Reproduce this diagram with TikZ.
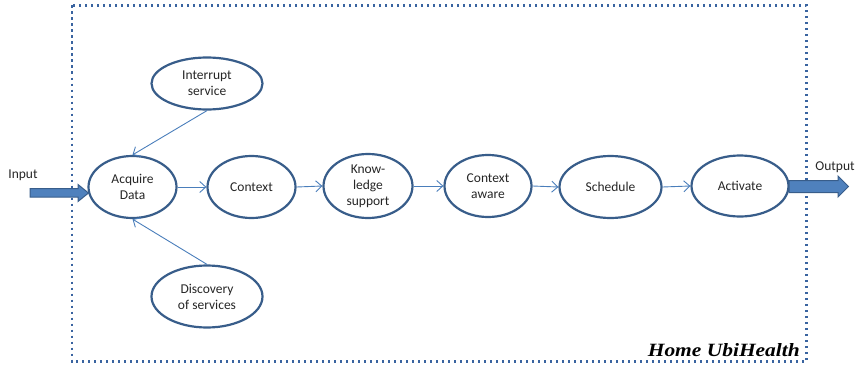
\documentclass[tikz,border=0pt]{standalone}
\usepackage{fontspec}
\usepackage{graphicx}
\setmainfont{Carlito}
\newfontfamily\sigfont{Liberation Serif}[UprightFont=*, BoldItalicFont=* Bold Italic]
\usetikzlibrary{shapes.geometric,arrows.meta}
\definecolor{ebord}{HTML}{385D8A}
\definecolor{conn}{HTML}{4A7EBB}
\definecolor{fatfill}{HTML}{4F81BD}
\definecolor{dotc}{HTML}{3A64A0}
\tikzset{
  proc/.style={ellipse, draw=ebord, line width=2.2pt, fill=white, inner sep=0pt,
    align=center, font=\fontsize{13.5}{16}\selectfont, text=black!85},
  conarrow/.style={draw=conn, line width=0.9pt, -{Straight Barb[length=6pt,width=11pt,line width=0.9pt]}},
  fat/.style={fill=fatfill, draw=ebord, line width=1pt},
  lab/.style={font=\fontsize{13.5}{16}\selectfont, text=black!85}
}
\begin{document}
\begin{tikzpicture}[x=1pt,y=-1pt]
\useasboundingbox (0,0) rectangle (856,369);
% dotted frame
\draw[dotc, line width=2.4pt, dash pattern=on 2.4pt off 3.6pt] (72,5.5) rectangle (806.5,361.5);
% process nodes
\node[proc, minimum width=88pt, minimum height=62pt] (acq) at (132.5,187) {Acquire\\Data};
\node[proc, minimum width=88pt, minimum height=62pt] (ctx) at (251.5,187) {Context};
\node[proc, minimum width=89pt, minimum height=64pt] (know) at (368,186) {Know-\\ledge\\support};
\node[proc, minimum width=87pt, minimum height=62pt] (caw) at (488,186) {Context\\aware};
\node[proc, minimum width=102pt, minimum height=62pt] (sch) at (610.5,187) {Schedule};
\node[proc, minimum width=97pt, minimum height=61pt] (act) at (740,186) {Activate};
\node[proc, minimum width=111pt, minimum height=52pt] (intr) at (207,83.5) {Interrupt\\service};
\node[proc, minimum width=111pt, minimum height=62pt] (disc) at (207,296.5) {Discovery\\of services};
% connectors
\draw[conarrow] (acq.east) -- (ctx.west);
\draw[conarrow] (ctx.east) -- (know.west);
\draw[conarrow] (know.east) -- (caw.west);
\draw[conarrow] (caw.east) -- (sch.west);
\draw[conarrow] (sch.east) -- (act.west);
\draw[conarrow] (intr.south) -- (acq.north);
\draw[conarrow] (disc.north) -- (acq.south);
% input / output block arrows
\draw[fat] (30,188.5) -- (78,188.5) -- (78,184.5) -- (88.5,193) -- (78,201.5) -- (78,197) -- (30,197) -- cycle;
\draw[fat] (789,180.5) -- (838,180.5) -- (838,176) -- (848.5,186.5) -- (838,197) -- (838,192.5) -- (789,192.5) -- cycle;
\node[lab] (inlab) at (23,175) {Input};
\node[lab] (outlab) at (835,167) {Output};
% signature
\node[anchor=base east, inner sep=0pt] (sig) at (800,356) {\resizebox{152pt}{13pt}{\sigfont\bfseries\itshape Home UbiHealth}};
\end{tikzpicture}
\end{document}
